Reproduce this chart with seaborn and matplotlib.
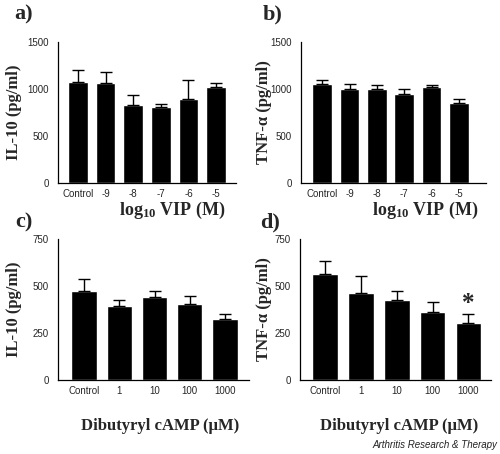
import matplotlib
matplotlib.use("Agg")
import matplotlib.pyplot as plt
import seaborn as sns
import numpy as np

sns.set_theme(style="white")
plt.rcParams["font.family"] = ["Liberation Sans", "DejaVu Sans"]
plt.rcParams["mathtext.fontset"] = "custom"
plt.rcParams["mathtext.rm"] = "Liberation Serif:bold"
plt.rcParams["mathtext.default"] = "rm"

# dados
vip_cats = ["Control", "-9", "-8", "-7", "-6", "-5"]
il10_vip = [1070, 1062, 830, 805, 891, 1026]
il10_vip_err = [130, 117, 110, 32, 200, 43]
tnf_vip = [1051, 998, 998, 948, 1026, 855]
tnf_vip_err = [43, 53, 42, 50, 18, 39]

camp_cats = ["Control", "1", "10", "100", "1000"]
il10_camp = [476, 391, 439, 405, 322]
il10_camp_err = [62, 34, 37, 43, 30]
tnf_camp = [564, 462, 428, 361, 301]
tnf_camp_err = [71, 92, 48, 55, 51]

W, H = 500, 454
fig = plt.figure(figsize=(5, 4.54), dpi=100)

serif = "Liberation Serif"


def painel(rect, cats, vals, errs, ymax, yticks, ylabel, xlabel, xlim,
           ylab_x, xlab_xy, xlab_fs, letra, letra_xy):
    left, top, right, bottom = rect
    ax = fig.add_axes([left / W, 1 - bottom / H, (right - left) / W, (bottom - top) / H])
    sns.barplot(x=cats, y=vals, color="black", width=0.72, errorbar=None,
                saturation=1, ax=ax)
    n = len(vals)
    ax.errorbar(range(n), vals, yerr=[np.zeros(n), errs], fmt="none",
                ecolor="black", elinewidth=1, capsize=4.5, capthick=1)
    ax.set_ylim(0, ymax)
    ax.set_xlim(*xlim)
    ax.set_yticks(yticks)
    sns.despine(ax=ax)
    for s in ["left", "bottom"]:
        ax.spines[s].set_color("black")
        ax.spines[s].set_linewidth(0.9)
    ax.tick_params(axis="y", length=3, width=0.9, color="black", labelsize=7, pad=3.5)
    ax.tick_params(axis="x", length=0, labelsize=7, pad=4)
    ax.set_ylabel(ylabel, fontsize=12, fontweight="bold", family=serif)
    ax.yaxis.set_label_coords(ylab_x, 0.5)
    ax.set_xlabel(xlabel, fontsize=xlab_fs, fontweight="bold", family=serif)
    ax.xaxis.set_label_coords(*xlab_xy)
    fig.text(letra_xy[0] / W, 1 - letra_xy[1] / H, letra, fontsize=16,
             fontweight="bold", family=serif, ha="center", va="center")
    return ax


painel((58, 42, 236, 183), vip_cats, il10_vip, il10_vip_err, 1500,
       [0, 500, 1000, 1500], "IL-10 (pg/ml)", "log$_{10}$ VIP (M)",
       (-0.72, 5.72), -0.202, (0.64, -0.12), 13, "a)", (24, 14))
painel((301, 42, 486, 183), vip_cats, tnf_vip, tnf_vip_err, 1500,
       [0, 500, 1000, 1500], "TNF-α (pg/ml)", "log$_{10}$ VIP (M)",
       (-0.78, 5.99), -0.155, (0.67, -0.12), 13, "b)", (273, 14))
painel((58, 239, 249, 380), camp_cats, il10_camp, il10_camp_err, 750,
       [0, 250, 500, 750], "IL-10 (pg/ml)", "Dibutyryl cAMP (μM)",
       (-0.74, 4.68), -0.188, (0.534, -0.27), 12, "c)", (24, 222))
ax_d = painel((300, 239, 491, 380), camp_cats, tnf_camp, tnf_camp_err, 750,
              [0, 250, 500, 750], "TNF-α (pg/ml)", "Dibutyryl cAMP (μM)",
              (-0.7, 4.63), -0.147, (0.52, -0.27), 12, "d)", (270, 222))
ax_d.text(4, 409, "*", ha="center", va="center", fontsize=18,
          fontweight="bold", family=serif)

fig.text(497 / W, 1 - 445 / H, "Arthritis Research & Therapy", ha="right",
         va="center", fontsize=7, style="italic", color="#222222")

fig.savefig("out.png", dpi=100)
